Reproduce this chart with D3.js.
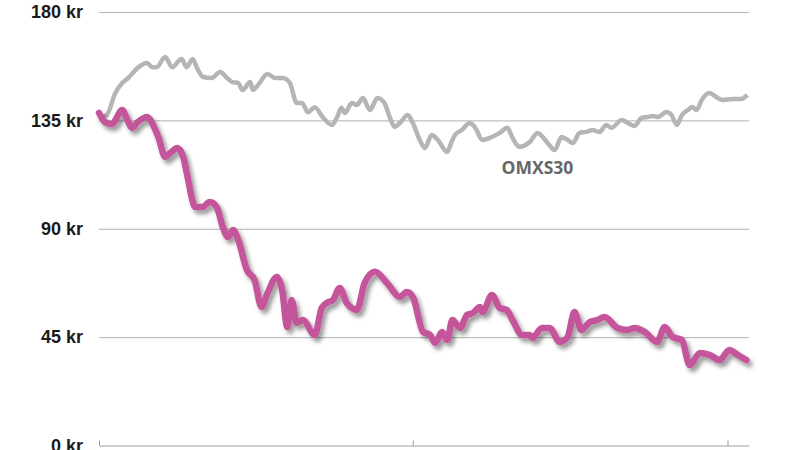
<!DOCTYPE html>
<html>
<head>
<meta charset="utf-8">
<script src="https://cdn.jsdelivr.net/npm/d3@7"></script>
<style>
  body { margin: 0; background: #fff; }
  svg { display: block; }
</style>
</head>
<body>
<div id="chart"></div>
<script>
// day offsets from start date and closing values (kr)
var omxDays = [0, 9, 19, 27, 34, 45, 56, 62, 67, 77, 85, 96, 102, 109, 114, 121, 131, 141, 149, 155,
  162, 167, 176, 179, 185, 196, 205, 214, 222, 230, 236, 243, 251, 260, 271, 277, 282, 286, 294, 300,
  307, 315, 324, 332, 338, 344, 350, 359, 365, 373, 379, 387, 394, 405, 410, 414, 422, 431, 437, 446,
  457, 466, 475, 481, 489, 501, 510, 521, 530, 538, 545, 551, 559, 567, 574, 582, 590, 596, 608, 615,
  623, 631, 638, 644, 650, 660, 666, 672, 678, 685, 690, 695, 701, 710, 718, 725, 737, 747, 754];
var omxValues = [136.0, 137.2, 146.4, 150.5, 152.6, 156.8, 158.8, 157.1, 157.1, 161.3, 157.1, 160.5, 157.1, 160.5, 156.8, 153.0, 152.6, 155.1, 152.6, 150.9,
  150.5, 147.6, 150.9, 147.6, 149.7, 154.3, 152.6, 152.6, 150.5, 142.2, 142.2, 138.4, 140.5, 136.4, 133.1, 136.4, 140.2, 138.1, 142.2, 141.4,
  144.3, 139.3, 144.3, 142.2, 136.4, 132.3, 133.9, 137.2, 133.9, 126.9, 123.5, 128.9, 126.9, 121.9, 126.0, 128.9, 131.0, 133.9, 132.3, 126.9,
  128.1, 129.8, 131.9, 127.7, 124.0, 126.0, 129.8, 126.0, 122.7, 128.1, 126.9, 125.6, 129.8, 130.2, 131.0, 130.2, 133.1, 131.9, 135.2, 133.9,
  132.7, 136.0, 136.4, 136.8, 136.4, 138.5, 137.2, 133.1, 137.2, 139.3, 140.6, 139.3, 143.5, 146.4, 144.7, 143.5, 143.9, 143.9, 145.6];

var stockDays = [0, 7, 15, 27, 33, 38, 45, 56, 63, 69, 77, 83, 91, 98, 103, 112, 120, 129, 137, 144,
  150, 156, 162, 172, 181, 189, 196, 207, 213, 219, 224, 230, 237, 251, 259, 265, 272, 280, 288, 300,
  309, 321, 335, 350, 358, 365, 377, 385, 391, 399, 405, 411, 420, 428, 435, 443, 446, 457, 466, 474,
  481, 492, 501, 504, 515, 524, 536, 545, 553, 561, 571, 580, 588, 603, 614, 623, 635, 649, 658, 667,
  678, 687, 699, 710, 722, 733, 743, 753];
var stockValues = [138.1, 134.3, 133.5, 139.3, 135.2, 131.9, 134.3, 136.4, 133.1, 128.1, 119.8, 121.5, 123.5, 119.8, 111.5, 99.0, 99.0, 101.1, 99.0, 90.7,
  86.6, 89.5, 85.3, 72.9, 68.7, 57.5, 63.3, 70.0, 64.6, 49.2, 60.4, 50.9, 52.1, 45.9, 57.1, 59.2, 60.4, 65.4, 59.2, 56.3,
  67.5, 72.1, 67.5, 61.7, 63.7, 61.7, 47.1, 45.9, 42.6, 47.1, 43.8, 52.1, 48.8, 54.2, 55.0, 57.5, 55.4, 62.5, 57.1, 56.3,
  52.1, 45.9, 45.9, 44.6, 48.8, 48.8, 43.0, 45.1, 55.4, 48.0, 51.3, 52.1, 53.4, 48.8, 48.0, 48.8, 47.1, 43.0, 49.2, 45.1,
  43.8, 33.4, 38.4, 37.6, 35.5, 39.7, 37.6, 35.5];

var yTicks = [0, 45, 90, 135, 180];
var seriesLabel = "OMXS30";

var startDate = new Date(2011, 0, 1);
var endDate = d3.timeDay.offset(startDate, 756);

var margin = {top: 12, right: 51, bottom: 4.5, left: 99},
    width = 800 - margin.left - margin.right,
    height = 450 - margin.top - margin.bottom;

var svg = d3.select("#chart").append("svg")
    .attr("width", 800)
    .attr("height", 450);

var defs = svg.append("defs");
var shadow = defs.append("filter")
    .attr("id", "shadow")
    .attr("x", "-10%").attr("y", "-10%")
    .attr("width", "130%").attr("height", "130%");
shadow.append("feDropShadow")
    .attr("dx", 3).attr("dy", 4)
    .attr("stdDeviation", 2.2)
    .attr("flood-color", "#000")
    .attr("flood-opacity", 0.4);

var g = svg.append("g")
    .attr("transform", "translate(" + margin.left + "," + margin.top + ")");

var x = d3.scaleTime().domain([startDate, endDate]).range([0, width]);
var y = d3.scaleLinear().domain([0, 180]).range([height, 0]);

// y axis with gridlines
var yAxis = g.append("g")
    .call(d3.axisLeft(y)
        .tickValues(yTicks)
        .tickSize(-width)
        .tickPadding(16)
        .tickFormat(function(d) { return d + " kr"; }));
yAxis.select(".domain").remove();
yAxis.selectAll(".tick line")
    .attr("stroke", "#b0b0b0")
    .attr("stroke-width", 1)
    .style("display", function(d) { return d === 0 ? "none" : null; });
yAxis.selectAll(".tick text")
    .attr("fill", "#1a1a1a")
    .style("font-family", "'Liberation Sans', Arial, sans-serif")
    .style("font-weight", "bold")
    .style("font-size", "18px");

// x axis
var xAxis = g.append("g")
    .attr("transform", "translate(0," + height + ")")
    .call(d3.axisBottom(x)
        .ticks(d3.timeYear.every(1))
        .tickSizeInner(-5)
        .tickSizeOuter(0)
        .tickFormat(""));
xAxis.select(".domain")
    .attr("stroke", "#cfcfcf")
    .attr("stroke-width", 2);
xAxis.selectAll(".tick line")
    .attr("stroke", "#999");

function toPoints(days, values) {
    return days.map(function(d, i) {
        return {date: d3.timeDay.offset(startDate, d), value: values[i]};
    });
}

var line = d3.line()
    .x(function(d) { return x(d.date); })
    .y(function(d) { return y(d.value); })
    .curve(d3.curveMonotoneX);

g.append("path")
    .datum(toPoints(omxDays, omxValues))
    .attr("fill", "none")
    .attr("stroke", "#b5b5b5")
    .attr("stroke-width", 4.5)
    .attr("stroke-linejoin", "round")
    .attr("d", line);

g.append("path")
    .datum(toPoints(stockDays, stockValues))
    .attr("fill", "none")
    .attr("stroke", "#c5549b")
    .attr("stroke-width", 6.5)
    .attr("stroke-linejoin", "round")
    .attr("stroke-linecap", "round")
    .attr("filter", "url(#shadow)")
    .attr("d", line);

// series label under the index line
g.append("text")
    .attr("x", x(d3.timeDay.offset(startDate, 510)))
    .attr("y", y(114.5))
    .attr("text-anchor", "middle")
    .attr("dominant-baseline", "middle")
    .attr("fill", "#666")
    .style("font-family", "'Open Sans', sans-serif")
    .style("font-weight", "bold")
    .style("font-size", "17.5px")
    .text(seriesLabel);
</script>
</body>
</html>
